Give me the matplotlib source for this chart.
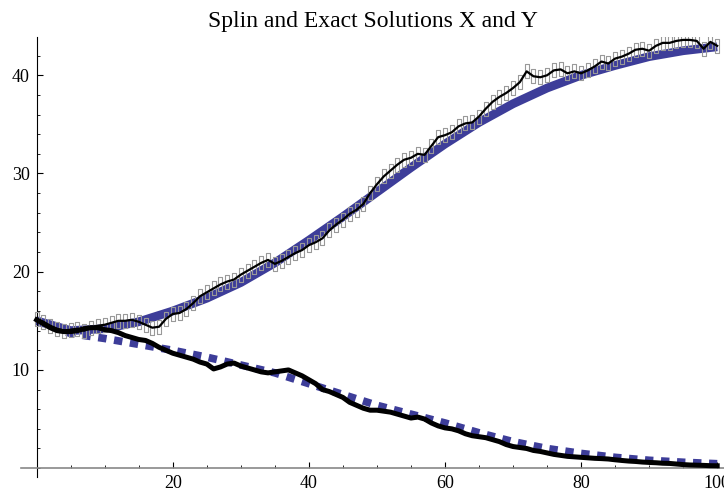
import numpy as np
import matplotlib.pyplot as plt
from matplotlib.ticker import MultipleLocator

plt.rcParams['font.family'] = ['Liberation Serif', 'DejaVu Serif']

# exact solutions, read every 5 units
x_exact = [0, 5, 10, 15, 20, 25, 30, 35, 40, 45, 50, 55, 60, 65, 70, 75, 80, 85, 90, 95, 100]
x_sol = [15.0, 14.0, 14.2, 14.9, 16.0, 17.3, 18.9, 20.9, 23.2, 25.6, 28.1, 30.6, 33.0, 35.2,
         37.1, 38.7, 40.0, 41.0, 41.9, 42.5, 42.9]
y_sol = [15.0, 13.7, 13.2, 12.6, 12.0, 11.3, 10.5, 9.7, 8.6, 7.5, 6.4, 5.5, 4.6, 3.6,
         2.7, 2.0, 1.5, 1.1, 0.8, 0.6, 0.45]

# spline solutions, one value per unit step
t_spl = list(range(101))
x_spl = [15.2, 14.9, 14.5, 14.2, 14.0, 14.1, 14.2, 14.0, 14.3, 14.5,
         14.6, 14.8, 15.0, 15.0, 15.1, 14.9, 14.6, 14.3, 14.4, 15.2,
         15.7, 15.8, 16.2, 16.8, 17.5, 17.9, 18.3, 18.7, 19.0, 19.2,
         19.7, 20.1, 20.5, 20.9, 21.2, 20.8, 21.1, 21.5, 21.9, 22.2,
         22.7, 23.0, 23.4, 24.2, 24.8, 25.3, 25.9, 26.3, 26.9, 28.0,
         28.9, 29.7, 30.3, 30.9, 31.4, 31.6, 32.0, 31.9, 32.8, 33.7,
         33.9, 34.2, 34.8, 35.1, 35.2, 35.8, 36.6, 37.3, 37.8, 38.2,
         38.7, 39.3, 40.4, 39.9, 39.8, 40.0, 40.5, 40.6, 40.2, 40.4,
         40.2, 40.5, 40.9, 41.4, 41.2, 41.7, 41.9, 42.2, 42.6, 42.7,
         42.5, 43.0, 43.3, 43.3, 43.5, 43.6, 43.6, 43.5, 42.7, 43.4,
         43.0]
y_spl = [15.1, 14.7, 14.3, 14.0, 13.9, 13.9, 14.0, 14.2, 14.3, 14.3,
         14.1, 14.0, 13.8, 13.5, 13.3, 13.1, 13.0, 12.7, 12.3, 12.0,
         11.7, 11.5, 11.3, 11.1, 10.8, 10.6, 10.1, 10.3, 10.6, 10.7,
         10.4, 10.2, 10.0, 9.8, 9.7, 9.8, 9.9, 10.0, 9.7, 9.4,
         9.0, 8.6, 8.0, 7.8, 7.5, 7.2, 6.7, 6.4, 6.1, 5.9,
         5.9, 5.8, 5.7, 5.5, 5.3, 5.1, 5.2, 5.0, 4.6, 4.3,
         4.1, 4.0, 3.8, 3.5, 3.3, 3.2, 3.1, 2.9, 2.7, 2.4,
         2.2, 2.1, 2.0, 1.8, 1.7, 1.55, 1.4, 1.3, 1.2, 1.15,
         1.1, 1.05, 1.0, 0.97, 0.93, 0.85, 0.78, 0.72, 0.68, 0.62,
         0.58, 0.55, 0.5, 0.48, 0.42, 0.36, 0.32, 0.3, 0.28, 0.25,
         0.24]

blue = '#3d3d99'
rect = [(-0.35, -1), (0.35, -1), (0.35, 1), (-0.35, 1), (-0.35, -1)]

fig = plt.figure(figsize=(7.24, 4.93), dpi=100)
ax = fig.add_axes([0.029, 0.0325, 0.971, 0.8925])

ax.plot(x_exact, x_sol, color=blue, lw=6.3, solid_capstyle='butt', zorder=2)
ax.plot(x_exact, y_sol, color=blue, lw=5.5, dashes=(1.1, 1.0), dash_capstyle='butt', zorder=2)
ax.plot(t_spl, x_spl, ls='none', marker=rect, ms=10, mfc='none', mec='#999999', mew=0.8, zorder=3)
ax.plot(t_spl, x_spl, color='black', lw=1.6, zorder=4)
ax.plot(t_spl, y_spl, color='black', lw=3.6, zorder=4)

ax.set_xlim(-2.3, 101)
ax.set_ylim(-0.9, 43.9)

for s in ['top', 'right']:
    ax.spines[s].set_visible(False)
ax.spines['left'].set_position(('data', 0))
ax.spines['bottom'].set_position(('data', 0))
ax.spines['left'].set_linewidth(0.8)
ax.spines['bottom'].set_color('#888888')
ax.spines['bottom'].set_linewidth(1.2)

ax.set_xticks([20, 40, 60, 80, 100])
ax.set_yticks([10, 20, 30, 40])
ax.xaxis.set_minor_locator(MultipleLocator(5))
ax.yaxis.set_minor_locator(MultipleLocator(2))
ax.tick_params(which='major', direction='in', length=4, width=0.8, labelsize=13, pad=5)
ax.tick_params(which='minor', direction='in', length=2.2, width=0.6)

ax.set_title('Splin and Exact Solutions X and Y', fontsize=17, pad=7)

plt.savefig('out.png', dpi=100)
